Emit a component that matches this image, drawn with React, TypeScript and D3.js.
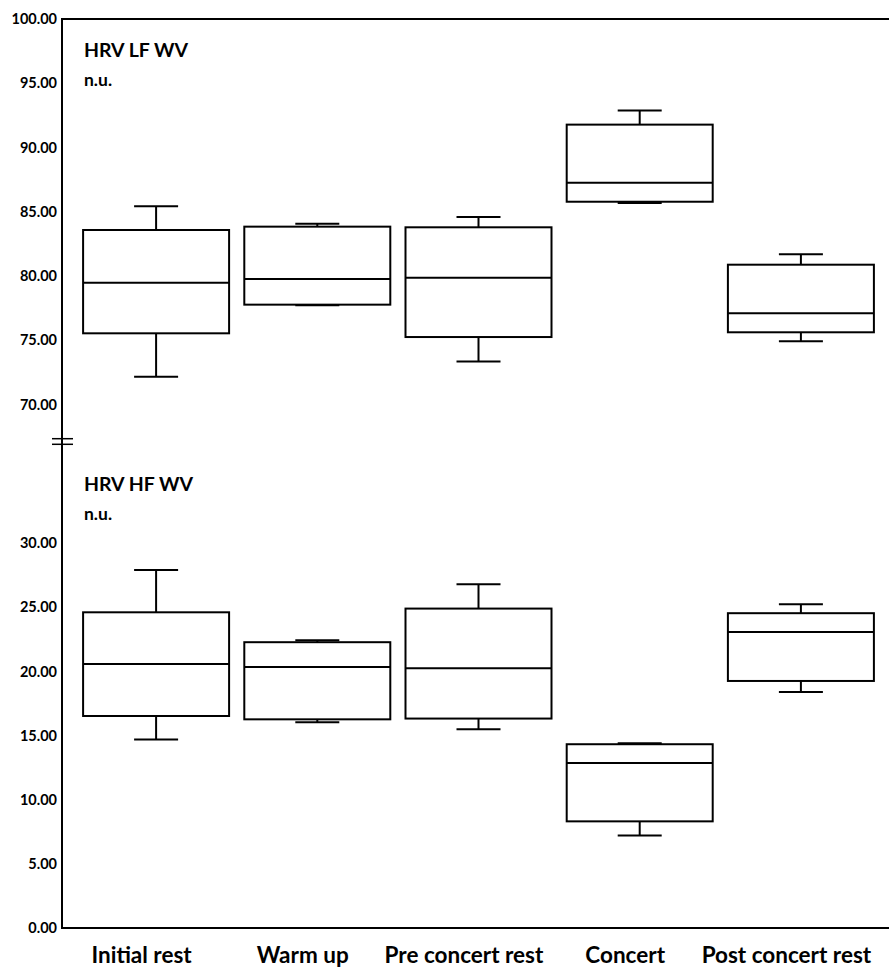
import React from 'react';
import * as d3 from 'd3';

const categories = ['Initial rest', 'Warm up', 'Pre concert rest', 'Concert', 'Post concert rest'];

const lfMin = [72.16, 77.72, 73.35, 85.68, 74.92];
const lfQ1 = [75.54, 77.77, 75.25, 85.78, 75.62];
const lfMedian = [79.48, 79.77, 79.87, 87.26, 77.1];
const lfQ3 = [83.58, 83.84, 83.79, 91.78, 80.88];
const lfMax = [85.42, 84.07, 84.59, 92.87, 81.69];

const hfMin = [14.68, 16.03, 15.48, 7.2, 18.39];
const hfQ1 = [16.52, 16.26, 16.32, 8.31, 19.25];
const hfMedian = [20.58, 20.34, 20.24, 12.86, 23.07];
const hfQ3 = [24.6, 22.27, 24.89, 14.32, 24.53];
const hfMax = [27.9, 22.42, 26.79, 14.39, 25.23];

const lfTicks = [70, 75, 80, 85, 90, 95, 100];
const hfTicks = [0, 5, 10, 15, 20, 25, 30];

const W = 889;
const H = 969;
const axisX = 62;
const topY = 19;
const bottomY = 928;
const FONT = 'Lato, "Open Sans", sans-serif';

export default function App() {
  const x = d3.scaleBand<string>().domain(categories).range([75.5, 881.5]).padding(0);
  const yTop = d3.scaleLinear().domain([70, 100]).range([404.5, topY]);
  const yBot = d3.scaleLinear().domain([0, 30]).range([bottomY, 543]);
  const boxW = 146;
  const capW = 44;

  const boxes = (
    y: d3.ScaleLinear<number, number>,
    mins: number[], q1: number[], med: number[], q3: number[], maxs: number[], key: string
  ) =>
    categories.map((c, i) => {
      const cx = (x(c) as number) + x.bandwidth() / 2;
      return (
        <g key={key + c} stroke="#000" strokeWidth={2} fill="none">
          <line x1={cx} x2={cx} y1={y(maxs[i])} y2={y(q3[i])} />
          <line x1={cx} x2={cx} y1={y(q1[i])} y2={y(mins[i])} />
          <line x1={cx - capW / 2} x2={cx + capW / 2} y1={y(maxs[i])} y2={y(maxs[i])} />
          <line x1={cx - capW / 2} x2={cx + capW / 2} y1={y(mins[i])} y2={y(mins[i])} />
          <rect x={cx - boxW / 2} width={boxW} y={y(q3[i])} height={y(q1[i]) - y(q3[i])} fill="#fff" />
          <line x1={cx - boxW / 2} x2={cx + boxW / 2} y1={y(med[i])} y2={y(med[i])} />
        </g>
      );
    });

  return (
    <svg width={W} height={H} style={{ position: 'absolute', left: 0, top: 0, background: '#fff' }}
      fontFamily={FONT}>
      <rect width={W} height={H} fill="#fff" />
      {/* frame */}
      <line x1={axisX} x2={W} y1={topY} y2={topY} stroke="#000" strokeWidth={2} />
      <line x1={axisX} x2={W} y1={bottomY} y2={bottomY} stroke="#000" strokeWidth={2} />
      <line x1={axisX} x2={axisX} y1={topY - 1} y2={bottomY + 1} stroke="#000" strokeWidth={2} />
      {/* axis break */}
      <line x1={52} x2={73} y1={438.7} y2={438.7} stroke="#000" strokeWidth={1.5} />
      <line x1={52} x2={73} y1={444.3} y2={444.3} stroke="#000" strokeWidth={1.5} />

      {/* ticks */}
      {lfTicks.map((t) => (
        <text key={'lt' + t} x={57} y={yTop(t)} dy="0.36em" textAnchor="end" fontSize={14.5} fontWeight="bold">
          {t.toFixed(2)}
        </text>
      ))}
      {hfTicks.map((t) => (
        <text key={'ht' + t} x={57} y={yBot(t)} dy="0.36em" textAnchor="end" fontSize={14.5} fontWeight="bold">
          {t.toFixed(2)}
        </text>
      ))}

      {/* panel titles */}
      <text x={84} y={57} fontSize={19.5} fontWeight="bold">HRV LF WV</text>
      <text x={84} y={86} fontSize={17.5} fontWeight="bold">n.u.</text>
      <text x={84} y={491} fontSize={19.5} fontWeight="bold">HRV HF WV</text>
      <text x={84} y={520} fontSize={17.5} fontWeight="bold">n.u.</text>

      {boxes(yTop, lfMin, lfQ1, lfMedian, lfQ3, lfMax, 'lf')}
      {boxes(yBot, hfMin, hfQ1, hfMedian, hfQ3, hfMax, 'hf')}

      {/* x labels */}
      {categories.map((c) => (
        <text key={'xl' + c} x={(x(c) as number) + x.bandwidth() / 2 - 14.5} y={963}
          textAnchor="middle" fontSize={22.5} fontWeight="bold">
          {c}
        </text>
      ))}
    </svg>
  );
}
